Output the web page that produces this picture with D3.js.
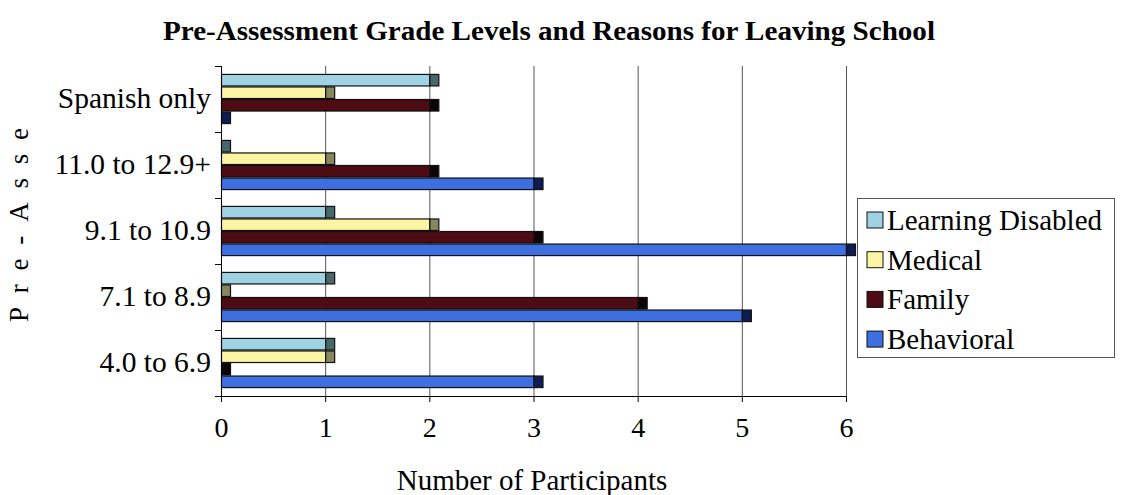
<!DOCTYPE html>
<html>
<head>
<meta charset="utf-8">
<script src="https://cdn.jsdelivr.net/npm/d3@7"></script>
<style>
  html, body { margin: 0; padding: 0; background: #fff; }
  svg text { font-family: 'Liberation Serif', 'Times New Roman', serif; fill: #000; }
  .grid line { stroke: #555; stroke-width: 1; }
  .axis path, .axis line { stroke: #000; }
</style>
</head>
<body>
<div class="js-container"></div>
<script>
;(function() {
  'use strict';

  var categories = ['Spanish only', '11.0 to 12.9+', '9.1 to 10.9', '7.1 to 8.9', '4.0 to 6.9'];
  var seriesNames = ['Learning Disabled', 'Medical', 'Family', 'Behavioral'];
  var learningDisabled = [2, 0, 1, 1, 1];
  var medical = [1, 1, 2, 0, 1];
  var family = [2, 2, 3, 4, 0];
  var behavioral = [0, 3, 6, 5, 3];
  var xTicks = [0, 1, 2, 3, 4, 5, 6];

  var seriesValues = [learningDisabled, medical, family, behavioral];
  var fills = ['#9fd2e3', '#fbf5a3', '#4d0b14', '#3d6fe0'];
  var caps = ['#46686b', '#86875c', '#0c0606', '#0d1c52'];

  var width = 1123, height = 495;
  var left = 221, right = 846, top = 66, bottom = 396;
  var capW = 9;

  var svg = d3.select('.js-container').append('svg')
              .attr('width', width)
              .attr('height', height);

  var x = d3.scaleLinear().domain([0, 6]).range([left, right]);

  var y = d3.scaleBand().domain(categories).range([top, bottom])
            .paddingInner(0.24).paddingOuter(0.12);

  var ySub = d3.scaleBand().domain(seriesNames).range([0, y.bandwidth()]);

  // vertical gridlines
  svg.append('g').classed('grid', true)
     .selectAll('line')
     .data(xTicks.slice(1))
     .enter().append('line')
       .attr('x1', function(d) { return x(d) + 0.5; })
       .attr('x2', function(d) { return x(d) + 0.5; })
       .attr('y1', top)
       .attr('y2', bottom);

  // bars, one group per category
  var rows = [];
  categories.forEach(function(c, i) {
    seriesNames.forEach(function(s, j) {
      rows.push({cat: c, series: s, idx: j, value: seriesValues[j][i]});
    });
  });

  var bars = svg.append('g').selectAll('g')
                .data(rows)
                .enter().append('g')
                .attr('transform', function(d) {
                  return 'translate(0,' + (y(d.cat) + ySub(d.series)) + ')';
                });

  bars.filter(function(d) { return d.value > 0; })
      .append('rect')
        .attr('x', x(0) + 0.5)
        .attr('y', 0.5)
        .attr('width', function(d) { return x(d.value) - x(0); })
        .attr('height', ySub.bandwidth() - 1)
        .attr('fill', function(d) { return fills[d.idx]; })
        .attr('stroke', '#111')
        .attr('stroke-width', 1.2);

  // darker end cap (the old 3-D bar look)
  bars.append('rect')
      .attr('x', function(d) { return x(d.value) + 0.5; })
      .attr('y', 0.5)
      .attr('width', capW)
      .attr('height', ySub.bandwidth() - 1)
      .attr('fill', function(d) { return caps[d.idx]; })
      .attr('stroke', '#111')
      .attr('stroke-width', 1.2);

  // bottom axis
  var xAxis = svg.append('g').classed('axis', true)
                 .attr('transform', 'translate(0,' + bottom + ')')
                 .call(d3.axisBottom(x).tickValues(xTicks).tickFormat(d3.format('d'))
                         .tickSize(6).tickSizeOuter(0));
  xAxis.selectAll('text')
       .attr('font-size', 28)
       .attr('dy', '1.15em');

  // left axis
  var yAxis = svg.append('g').classed('axis', true)
                 .attr('transform', 'translate(' + left + ',0)')
                 .call(d3.axisLeft(y).tickSize(0).tickPadding(10));
  yAxis.select('.domain').attr('d', 'M0.5,' + top + 'V' + bottom);
  yAxis.selectAll('text')
       .attr('font-size', 29.5);

  // boundary ticks between categories
  var bounds = d3.range(categories.length + 1).map(function(i) { return top + i * y.step(); });
  svg.append('g').selectAll('line')
     .data(bounds)
     .enter().append('line')
       .attr('x1', left - 6).attr('x2', left)
       .attr('y1', function(d) { return Math.round(d) + 0.5; })
       .attr('y2', function(d) { return Math.round(d) + 0.5; })
       .attr('stroke', '#000');

  // title
  svg.append('text')
     .attr('x', 549).attr('y', 40)
     .attr('text-anchor', 'middle')
     .attr('font-weight', 'bold')
     .attr('font-size', 28)
     .attr('textLength', 772)
     .attr('lengthAdjust', 'spacingAndGlyphs')
     .text('Pre-Assessment Grade Levels and Reasons for Leaving School');

  svg.append('text')
     .attr('x', 532).attr('y', 490)
     .attr('text-anchor', 'middle')
     .attr('font-size', 29)
     .text('Number of Participants');

  svg.append('text')
     .attr('transform', 'translate(28,225) rotate(-90)')
     .attr('text-anchor', 'middle')
     .attr('font-size', 27)
     .attr('textLength', 194)
     .attr('lengthAdjust', 'spacing')
     .text('Pre-Asse');

  // legend
  var legend = svg.append('g').attr('transform', 'translate(857,198)');
  legend.append('rect')
        .attr('x', 0.5).attr('y', 0.5)
        .attr('width', 257).attr('height', 159)
        .attr('fill', '#fff')
        .attr('stroke', '#555');

  var item = legend.selectAll('g.item')
                   .data(seriesNames)
                   .enter().append('g')
                   .classed('item', true)
                   .attr('transform', function(d, i) { return 'translate(10,' + (22 + i * 39.7) + ')'; });
  item.append('rect')
      .attr('x', 0).attr('y', -8)
      .attr('width', 16).attr('height', 16)
      .attr('fill', function(d, i) { return fills[i]; })
      .attr('stroke', '#111');
  item.append('text')
      .attr('x', 20).attr('y', 10)
      .attr('font-size', 29)
      .text(function(d) { return d; });

}());
</script>
</body>
</html>
